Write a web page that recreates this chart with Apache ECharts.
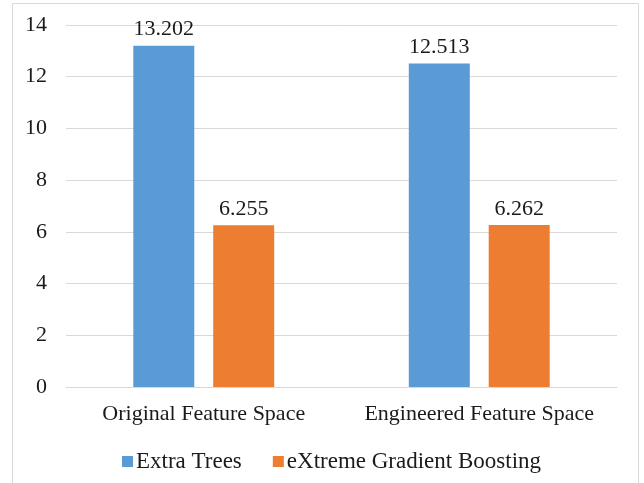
<!DOCTYPE html>
<html>
<head>
<meta charset="utf-8">
<script src="https://cdn.jsdelivr.net/npm/echarts@6/dist/echarts.min.js"></script>
<style>
  html, body { margin: 0; padding: 0; background: #fff; }
  #chart { width: 644px; height: 483px; }
</style>
</head>
<body>
<div id="chart"></div>
<script>
// Feature-space comparison of two regressors
const categories = ['Original Feature Space', 'Engineered Feature Space'];
const extraTrees = [13.202, 12.513];
const xgBoost = [6.255, 6.262];
const seriesNames = ['Extra Trees', 'eXtreme Gradient Boosting'];

const FONT = "'Times New Roman', 'Liberation Serif', 'DejaVu Serif', serif";
const FS = 22;
const chart = echarts.init(document.getElementById('chart'));

const labelCfg = {
  show: true,
  position: 'top',
  distance: 5,
  color: '#1a1a1a',
  fontFamily: FONT,
  fontSize: FS,
  formatter: p => p.value.toFixed(3)
};

chart.setOption({
  animation: false,
  graphic: [{
    type: 'rect',
    shape: { x: 12.5, y: 3.5, width: 626, height: 490 },
    style: { fill: 'none', stroke: '#D9D9D9', lineWidth: 1 },
    silent: true
  }],
  grid: { left: 66, right: 27, top: 25, bottom: 96 },
  legend: {
    left: 117,
    top: 445,
    itemWidth: 11,
    itemHeight: 11,
    itemGap: 31,
    icon: 'rect',
    textStyle: { fontFamily: FONT, fontSize: 23, color: '#1a1a1a', padding: [0, 0, 0, -2] },
    data: seriesNames
  },
  xAxis: {
    type: 'category',
    data: categories,
    axisLine: { show: true, lineStyle: { color: '#D9D9D9', width: 1 } },
    axisTick: { show: false },
    axisLabel: { interval: 0, fontFamily: FONT, fontSize: FS, color: '#1a1a1a', margin: 16 }
  },
  yAxis: {
    type: 'value',
    min: 0,
    max: 14,
    interval: 2,
    axisLine: { show: false },
    axisTick: { show: false },
    splitLine: { lineStyle: { color: '#D9D9D9', width: 1 } },
    axisLabel: { fontFamily: FONT, fontSize: FS, color: '#1a1a1a', margin: 19 }
  },
  series: [
    {
      name: seriesNames[0],
      type: 'bar',
      data: extraTrees,
      barWidth: 61,
      barGap: '31%',
      itemStyle: { color: '#5B9BD5' },
      label: labelCfg
    },
    {
      name: seriesNames[1],
      type: 'bar',
      data: xgBoost,
      barWidth: 61,
      barGap: '31%',
      itemStyle: { color: '#ED7D31' },
      label: labelCfg
    }
  ]
});
</script>
</body>
</html>
